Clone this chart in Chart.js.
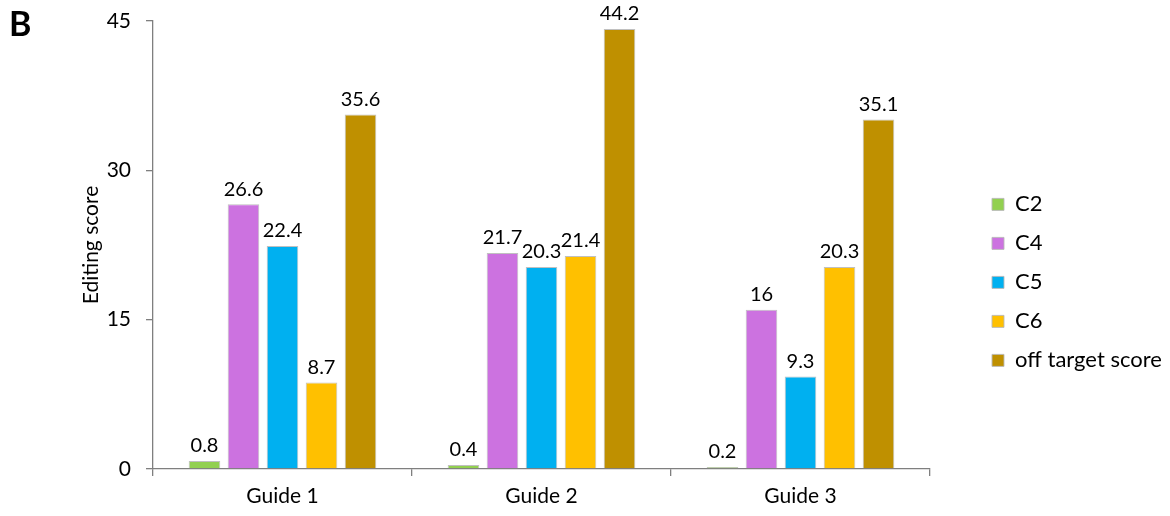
<!DOCTYPE html>
<html>
<head>
<meta charset="utf-8">
<script src="https://cdn.jsdelivr.net/npm/chart.js@4"></script>
<style>
  html, body { margin: 0; padding: 0; background: #fff; }
  #wrap { position: relative; width: 1170px; height: 516px; }
  #panel { position: absolute; left: 9px; top: 2px; font: bold 34px Lato, sans-serif; color: #000; }
</style>
</head>
<body>
<div id="wrap">
  <canvas id="myChart" width="1170" height="516"></canvas>
  <div id="panel">B</div>
</div>
<script>
const guides = ['Guide 1', 'Guide 2', 'Guide 3'];
const seriesNames = ['C2', 'C4', 'C5', 'C6', 'off target score'];
const c2 = [0.8, 0.4, 0.2];
const c4 = [26.6, 21.7, 16];
const c5 = [22.4, 20.3, 9.3];
const c6 = [8.7, 21.4, 20.3];
const offTarget = [35.6, 44.2, 35.1];
const colors = ['#92D050', '#CC72E0', '#00B0F0', '#FFC000', '#BF9000'];

const FONT = 'Lato, "Noto Sans", sans-serif';
const values = [c2, c4, c5, c6, offTarget];

// value labels above each bar
const barLabels = {
  id: 'barLabels',
  afterDatasetsDraw(chart) {
    const ctx = chart.ctx;
    ctx.save();
    ctx.font = '20px ' + FONT;
    ctx.fillStyle = '#000';
    ctx.textAlign = 'center';
    ctx.textBaseline = 'bottom';
    chart.data.datasets.forEach((ds, i) => {
      chart.getDatasetMeta(i).data.forEach((bar, j) => {
        ctx.fillText(String(ds.data[j]), bar.x, bar.y - 5);
      });
    });
    ctx.restore();
  }
};

// legend sits off to the right with a gap
const legendPlace = {
  id: 'legendPlace',
  beforeInit(chart) {
    const fit = chart.legend.fit;
    chart.legend.fit = function () {
      fit.call(this);
      this.width = 240;
    };
  },
  afterLayout(chart) {
    chart.legend.left += 45;
    chart.legend.right += 45;
  }
};

new Chart(document.getElementById('myChart'), {
  type: 'bar',
  data: {
    labels: guides,
    datasets: seriesNames.map((name, i) => ({
      label: name,
      data: values[i],
      backgroundColor: colors[i],
      borderColor: 'rgba(185,185,185,0.9)',
      borderWidth: 1,
      categoryPercentage: 0.753,
      barPercentage: 0.81
    }))
  },
  options: {
    responsive: false,
    animation: false,
    layout: { padding: { left: 73, top: 21, bottom: 7, right: 0 } },
    plugins: {
      tooltip: { enabled: false },
      legend: {
        position: 'right',
        align: 'start',
        title: { display: true, text: '', padding: { top: 0, bottom: 141 } },
        labels: {
          color: '#000',
          font: { family: FONT, size: 22 },
          boxWidth: 12,
          boxHeight: 12,
          padding: 17
        }
      }
    },
    scales: {
      x: {
        offset: true,
        afterFit(scale) { scale.height = 40; },
        border: { color: '#7f7f7f', width: 1.3 },
        grid: { offset: true, drawOnChartArea: false, tickLength: 7, color: '#7f7f7f', lineWidth: 1.3 },
        ticks: { color: '#000', font: { family: FONT, size: 21 }, padding: 8 }
      },
      y: {
        min: 0,
        max: 45,
        afterFit(scale) { scale.width = 80; scale.paddingTop = 0; scale.paddingBottom = 0; },
        border: { color: '#7f7f7f', width: 1.3 },
        grid: { drawOnChartArea: false, tickLength: 7, color: '#7f7f7f', lineWidth: 1.3 },
        ticks: { stepSize: 15, color: '#000', font: { family: FONT, size: 21 }, padding: 15 },
        title: { display: true, text: 'Editing score', color: '#000', font: { family: FONT, size: 21 }, padding: { top: 6, bottom: 0 } }
      }
    }
  },
  plugins: [barLabels, legendPlace]
});
</script>
</body>
</html>
